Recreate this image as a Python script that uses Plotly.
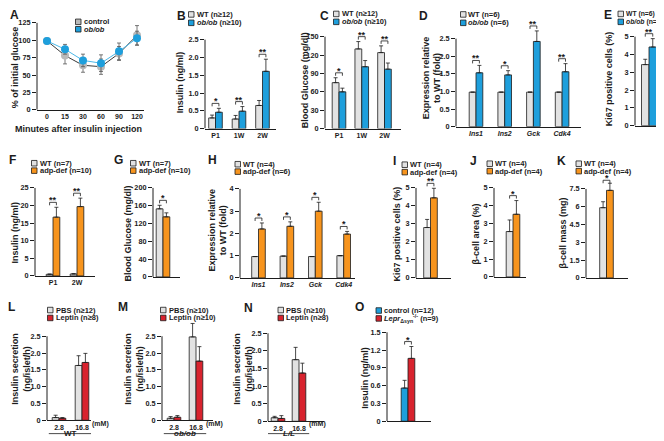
import plotly.graph_objects as go

W, H = 664, 441
FONT = "Liberation Sans, Arial, Helvetica, sans-serif"
INK = "#1c1c1c"
WT_GRAY = "#e2e2e2"
BLUE = "#1e9fdc"
ORANGE = "#f7941d"
RED = "#d8232e"
CTRL_GRAY = "#b9b9b9"

# ======================= DATA =======================
# A  insulin tolerance
A_minutes = ["0", "15", "30", "60", "90", "120"]
A_control = [99, 78, 64, 62, 81, 107]
A_control_err = [1.5, 12, 10, 11, 10, 14]
A_obob = [99, 87, 71, 67, 84, 103]
A_obob_err = [1.5, 7, 9, 12, 12, 10]
A_yticks = [0, 25, 50, 75, 100, 125]

# B  plasma insulin
B_cats = ["P1", "1W", "2W"]
B_wt = [0.30, 0.27, 0.65]
B_wt_err = [0.08, 0.10, 0.14]
B_ob = [0.46, 0.49, 1.61]
B_ob_err = [0.11, 0.13, 0.34]
B_sig = ["*", "**", "**"]

# C  blood glucose
C_cats = ["P1", "1W", "2W"]
C_wt = [75, 130, 124]
C_wt_err = [8, 12, 11]
C_ob = [60, 101, 97]
C_ob_err = [6, 10, 10]
C_sig = ["*", "**", "**"]

# D  expression
D_cats = ["Ins1", "Ins2", "Gck", "Cdk4"]
D_wt = [0.98, 0.98, 0.98, 0.98]
D_wt_err = [0, 0, 0, 0]
D_ob = [1.53, 1.47, 2.42, 1.56]
D_ob_err = [0.21, 0.12, 0.30, 0.23]
D_sig = ["**", "*", "**", "**"]

# E  Ki67
E_wt = [3.43]
E_wt_err = [0.30]
E_ob = [4.42]
E_ob_err = [0.47]
E_sig = ["**"]

# F  insulin adp-def
F_cats = ["P1", "2W"]
F_wt = [0.45, 0.55]
F_wt_err = [0.10, 0.10]
F_ad = [16.7, 19.7]
F_ad_err = [2.8, 2.4]
F_sig = ["**", "**"]

# G  blood glucose adp-def
G_wt = [153]
G_wt_err = [8]
G_ad = [135]
G_ad_err = [9]
G_sig = ["*"]

# H  expression adp-def
H_cats = ["Ins1", "Ins2", "Gck", "Cdk4"]
H_wt = [0.96, 0.98, 0.96, 1.00]
H_wt_err = [0, 0, 0, 0]
H_ad = [2.20, 2.32, 3.00, 1.97]
H_ad_err = [0.27, 0.20, 0.40, 0.12]
H_sig = ["*", "*", "*", "*"]

# I  Ki67 adp-def
I_wt = [2.80]
I_wt_err = [0.45]
I_ad = [4.45]
I_ad_err = [0.53]
I_sig = ["**"]

# J  beta-cell area
J_wt = [2.55]
J_wt_err = [0.65]
J_ad = [3.52]
J_ad_err = [0.77]
J_sig = ["*"]

# K  beta-cell mass
K_wt = [5.92]
K_wt_err = [0.50]
K_ad = [7.38]
K_ad_err = [0.60]
K_sig = ["*"]

# L, M, N  insulin secretion at 2.8 / 16.8 mM glucose
glucose_mM = ["2.8", "16.8"]
L_pbs = [0.08, 1.63]
L_pbs_err = [0.07, 0.29]
L_lep = [0.06, 1.72]
L_lep_err = [0.02, 0.27]
M_pbs = [0.06, 2.48]
M_pbs_err = [0.05, 0.40]
M_lep = [0.09, 1.76]
M_lep_err = [0.05, 0.43]
N_pbs = [0.10, 1.75]
N_pbs_err = [0.04, 0.35]
N_lep = [0.08, 1.37]
N_lep_err = [0.08, 0.28]

# O  insulin, LeprΔsyn
O_ctrl = [0.56]
O_ctrl_err = [0.13]
O_lepr = [1.06]
O_lepr_err = [0.20]
O_sig = ["*"]

# tick sets
T25 = [0, 0.5, 1.0, 1.5, 2.0, 2.5]
T25_lab = ["0", "0.5", "1.0", "1.5", "2.0", "2.5"]
T150 = [0, 30, 60, 90, 120, 150]
T5 = [0, 1, 2, 3, 4, 5]
T4 = [0, 1, 2, 3, 4]
T25i = [0, 5, 10, 15, 20, 25]
T200 = [0, 40, 80, 120, 160, 200]
T75 = [0, 1.5, 3, 4.5, 6, 7.5]
T75_lab = ["0", "1.5", "3", "4.5", "6", "7.5"]
T15 = [0, 0.3, 0.6, 0.9, 1.2, 1.5]
T15_lab = ["0", "0.3", "0.6", "0.9", "1.2", "1.5"]

# ======================= HELPERS =======================
fig = go.Figure()
layout_axes = {}
shapes = []
annots = []


def px2x(px):
    return px / W


def px2y(py):
    return 1 - py / H


def font(size, bold=True):
    return dict(family=FONT, size=size, color=INK, weight="bold" if bold else "normal")


def txt(x, y, text, size=7.5, ax="center", ay="middle", angle=0, bold=True):
    annots.append(dict(x=px2x(x), y=px2y(y), xref="paper", yref="paper", text=text,
                       showarrow=False, xanchor=ax, yanchor=ay, textangle=angle,
                       font=font(size, bold), borderpad=0))


def legend(xsq, ys, items, size=7.5):
    for (label, color), y in zip(items, ys):
        shapes.append(dict(type="rect", xref="paper", yref="paper",
                           x0=px2x(xsq), x1=px2x(xsq + 5.5),
                           y0=px2y(y + 2.8), y1=px2y(y - 2.8),
                           fillcolor=color, line=dict(color=INK, width=0.8)))
        txt(xsq + 7, y, label, size=size, ax="left")


def setup_axes(n, g, xticks, xticklabels, yticks, yticklabels, xfont=7):
    xa = "xaxis" if n == 1 else f"xaxis{n}"
    ya = "yaxis" if n == 1 else f"yaxis{n}"
    xr = "x" if n == 1 else f"x{n}"
    yr = "y" if n == 1 else f"y{n}"
    s, c0 = g["s"], g["c0"]
    ppu = (g["yb"] - g["yt"]) / max(yticks)
    layout_axes[xa] = dict(domain=[px2x(g["x0"]), px2x(g["x1"])],
                           range=[(g["x0"] - c0) / s, (g["x1"] - c0) / s],
                           anchor=yr, showline=True, linecolor=INK, linewidth=1,
                           ticks="", ticklen=0, tickvals=xticks, ticktext=xticklabels,
                           showticklabels=len(xticks) > 0,
                           tickfont=font(xfont), showgrid=False, zeroline=False,
                           fixedrange=True)
    layout_axes[ya] = dict(domain=[px2y(g["yb"]), px2y(g["ytop"])],
                           range=[0, (g["yb"] - g["ytop"]) / ppu],
                           anchor=xr, showline=False, ticks="outside", ticklen=4,
                           tickwidth=1, tickcolor=INK, tickvals=yticks,
                           ticktext=yticklabels, tickfont=font(7.3),
                           showgrid=False, zeroline=False, fixedrange=True)
    shapes.append(dict(type="line", xref=f"{xr} domain", yref=yr, x0=0, x1=0,
                       y0=0, y1=max(yticks), line=dict(color=INK, width=1)))
    return xr, yr, ppu


def bar_panel(n, g, cats, series, sig, yticks, yticklabels, italic_cats=False):
    ncat = len(series[0][0])
    xt = list(range(ncat))
    if cats:
        labels = [f"<i>{c}</i>" if italic_cats else c for c in cats]
        tv = xt
    else:
        labels, tv = [], []
    xr, yr, ppu = setup_axes(n, g, tv, labels, yticks, yticklabels)
    bw = g.get("bw", 6.8) / g["s"]
    for k, (vals, errs, color) in enumerate(series):
        fig.add_trace(go.Bar(
            x=xt, y=vals, width=bw, offset=(k - 1) * bw, xaxis=xr, yaxis=yr,
            marker=dict(color=color, line=dict(color=INK, width=0.8)),
            error_y=dict(type="data", array=errs, arrayminus=[0] * ncat,
                         symmetric=False, color=INK, thickness=0.8, width=2),
            showlegend=False, hoverinfo="skip"))
    if sig:
        gap = g.get("gap", 5)
        for i, mark in enumerate(sig):
            if not mark:
                continue
            top = max(v[i] + e[i] for v, e, _ in series)
            ly = top + gap / ppu
            tb = ly - 3 / ppu
            xl, xrr = i - bw / 2, i + bw / 2
            shapes.append(dict(type="path", xref=xr, yref=yr,
                               path=f"M {xl},{tb} L {xl},{ly} L {xrr},{ly} L {xrr},{tb}",
                               line=dict(color=INK, width=0.8)))
            annots.append(dict(x=i, y=ly, xref=xr, yref=yr, text=mark, showarrow=False,
                               yanchor="bottom", yshift=-4, font=font(9), borderpad=0))
    return xr, yr, ppu, bw


# ======================= PANEL A =======================
gA = dict(x0=29, x1=136, yb=103, yt=15, ytop=8, c0=39, s=18)
xA, yA, _ = setup_axes(1, gA, list(range(len(A_minutes))), A_minutes, A_yticks,
                       [str(t) for t in A_yticks])
fig.add_trace(go.Scatter(
    x=list(range(len(A_minutes))), y=A_control, mode="lines+markers", xaxis=xA, yaxis=yA,
    line=dict(color="#3a3a3a", width=1), marker=dict(color=CTRL_GRAY, size=8),
    error_y=dict(type="data", array=A_control_err, color="#555", thickness=0.8, width=2),
    cliponaxis=False, showlegend=False, hoverinfo="skip"))
fig.add_trace(go.Scatter(
    x=list(range(len(A_minutes))), y=A_obob, mode="lines+markers", xaxis=xA, yaxis=yA,
    line=dict(color="#4cb8e8", width=1), marker=dict(color=BLUE, size=8),
    error_y=dict(type="data", array=A_obob_err, color="#555", thickness=0.8, width=2),
    cliponaxis=False, showlegend=False, hoverinfo="skip"))
txt(6, 7.5, "A", size=12)
legend(67.5, [14, 21.5], [("control", CTRL_GRAY), ("<i>ob/ob</i>", BLUE)])
txt(7, 60, "% of initial glucose", size=9, angle=-90)
txt(70, 122, "Minutes after insulin injection", size=9)

# ======================= PANEL B =======================
gB = dict(x0=197, x1=268, yb=122, yt=32, ytop=2, c0=207.5, s=23.5)
bar_panel(2, gB, B_cats, [(B_wt, B_wt_err, WT_GRAY), (B_ob, B_ob_err, BLUE)], B_sig, T25, T25_lab)
txt(173, 8, "B", size=12)
legend(180.5, [6.5, 15], [("WT (n≥12)", WT_GRAY), ("<i>ob/ob</i> (n≥10)", BLUE)])
txt(172, 75, "Insulin (ng/ml)", size=9, angle=-90)

# ======================= PANEL C =======================
gC = dict(x0=317, x1=393, yb=122, yt=29, ytop=2, c0=331, s=22.75)
bar_panel(3, gC, C_cats, [(C_wt, C_wt_err, WT_GRAY), (C_ob, C_ob_err, BLUE)], C_sig, T150,
          [str(t) for t in T150])
txt(316.5, 8, "C", size=12)
legend(325.5, [6, 14], [("WT (n≥12)", WT_GRAY), ("<i>ob/ob</i> (n≥10)", BLUE)])
txt(297, 73, "Blood Glucose (mg/dl)", size=9, angle=-90)

# ======================= PANEL D =======================
gD = dict(x0=448, x1=573, yb=120, yt=31, ytop=2, c0=468, s=28.7)
bar_panel(4, gD, D_cats, [(D_wt, D_wt_err, WT_GRAY), (D_ob, D_ob_err, BLUE)], D_sig, T25,
          T25_lab, italic_cats=True)
txt(415, 8, "D", size=12)
legend(452.5, [6.5, 15], [("WT (n=6)", WT_GRAY), ("<i>ob/ob</i> (n=6)", BLUE)])
txt(424, 70, "Expression relative<br>to WT (fold)", size=9, angle=-90)

# ======================= PANEL E =======================
gE = dict(x0=627, x1=663, yb=119, yt=29, ytop=2, c0=641, s=24, bw=7.5)
bar_panel(5, gE, None, [(E_wt, E_wt_err, WT_GRAY), (E_ob, E_ob_err, BLUE)], E_sig, T5,
          [str(t) for t in T5])
txt(600, 7, "E", size=12)
legend(610, [6, 14], [("WT (n=6)", WT_GRAY), ("<i>ob/ob</i> (n=6)", BLUE)], size=6.8)
txt(601, 72, "Ki67 positive cells (%)", size=9, angle=-90)

# ======================= PANEL F =======================
gF = dict(x0=27, x1=87, yb=271, yt=182, ytop=148, c0=45, s=24)
bar_panel(6, gF, F_cats, [(F_wt, F_wt_err, WT_GRAY), (F_ad, F_ad_err, ORANGE)], F_sig, T25i,
          [str(t) for t in T25i])
txt(4, 154, "F", size=12)
legend(23.5, [157, 164.5], [("WT (n=7)", WT_GRAY), ("adp-def (n=10)", ORANGE)])
txt(7, 227, "Insulin (ng/ml)", size=9, angle=-90)

# ======================= PANEL G =======================
gG = dict(x0=145, x1=172, yb=272, yt=182, ytop=148, c0=155, s=24)
bar_panel(7, gG, None, [(G_wt, G_wt_err, WT_GRAY), (G_ad, G_ad_err, ORANGE)], G_sig, T200,
          [str(t) for t in T200])
txt(110.5, 154, "G", size=12)
legend(122.5, [157, 164.5], [("WT (n=7)", WT_GRAY), ("adp-def (n=10)", ORANGE)])
txt(120, 228, "Blood Glucose (mg/dl)", size=9, angle=-90)

# ======================= PANEL H =======================
gH = dict(x0=232, x1=347, yb=273, yt=183, ytop=148, c0=250.5, s=28.4)
bar_panel(8, gH, H_cats, [(H_wt, H_wt_err, WT_GRAY), (H_ad, H_ad_err, ORANGE)], H_sig, T4,
          [str(t) for t in T4], italic_cats=True)
txt(204, 154, "H", size=12)
legend(227, [158, 165.5], [("WT (n=4)", WT_GRAY), ("adp-def (n=6)", ORANGE)])
txt(210, 225, "Expression relative<br>to WT (fold)", size=9, angle=-90)

# ======================= PANEL I =======================
gI = dict(x0=408, x1=443, yb=273, yt=182, ytop=148, c0=422.5, s=24)
bar_panel(9, gI, None, [(I_wt, I_wt_err, WT_GRAY), (I_ad, I_ad_err, ORANGE)], I_sig, T5,
          [str(t) for t in T5])
txt(386, 155, "I", size=12)
legend(394, [158.5, 166], [("WT (n=4)", WT_GRAY), ("adp-def (n=4)", ORANGE)])
txt(389, 229, "Ki67 positive cells (%)", size=9, angle=-90)

# ======================= PANEL J =======================
gJ = dict(x0=486, x1=518, yb=272, yt=182, ytop=148, c0=505, s=24)
bar_panel(10, gJ, None, [(J_wt, J_wt_err, WT_GRAY), (J_ad, J_ad_err, ORANGE)], J_sig, T5,
          [str(t) for t in T5])
txt(466, 155, "J", size=12)
legend(479, [157.5, 165], [("WT (n=4)", WT_GRAY), ("adp-def (n=4)", ORANGE)])
txt(468, 229, "β-cell area (%)", size=9, angle=-90)

# ======================= PANEL K =======================
gK = dict(x0=578, x1=620, yb=273, yt=183, ytop=148, c0=598.5, s=24, gap=3)
bar_panel(11, gK, None, [(K_wt, K_wt_err, WT_GRAY), (K_ad, K_ad_err, ORANGE)], K_sig, T75,
          T75_lab)
txt(553.5, 155, "K", size=12)
legend(568, [157.5, 165], [("WT (n=4)", WT_GRAY), ("adp-def (n=4)", ORANGE)])
txt(555, 228, "β-cell mass (mg)", size=9, angle=-90)


# ======================= PANELS L, M, N =======================
def secretion_panel(n, g, pbs, pbs_err, lep, lep_err, letter, letter_pos, leg_x, leg_labels,
                    title_x, group_label):
    xr, yr, ppu, bw = bar_panel(n, g, glucose_mM, [(pbs, pbs_err, WT_GRAY), (lep, lep_err, RED)],
                                None, T25, T25_lab)
    txt(letter_pos[0], letter_pos[1], letter, size=12)
    legend(leg_x, [305.5, 313.5], [(leg_labels[0], WT_GRAY), (leg_labels[1], RED)])
    txt(title_x, 365, "Insulin secretion<br>(ng/islet/h)", size=9, angle=-90)
    annots.append(dict(x=len(glucose_mM) - 1, y=px2y(425.5), xref=xr, yref="paper", text="(mM)",
                       showarrow=False, xanchor="left", xshift=9, font=font(7), borderpad=0))
    shapes.append(dict(type="line", xref=xr, yref="paper", x0=-bw * 1.5, x1=len(glucose_mM) - 1 + bw * 1.5,
                       y0=px2y(430.5), y1=px2y(430.5), line=dict(color=INK, width=0.8)))
    annots.append(dict(x=(len(glucose_mM) - 1) / 2, y=px2y(436), xref=xr, yref="paper",
                       text=group_label, showarrow=False, font=font(8), borderpad=0))


gL = dict(x0=39, x1=83, yb=417, yt=332, ytop=296, c0=51, s=23)
secretion_panel(12, gL, L_pbs, L_pbs_err, L_lep, L_lep_err, "L", (3, 302), 39.5,
                ("PBS (n≥12)", "Leptin (n≥8)"), 13, "WT")
gM = dict(x0=154, x1=205, yb=417, yt=332, ytop=296, c0=166, s=22)
secretion_panel(13, gM, M_pbs, M_pbs_err, M_lep, M_lep_err, "M", (115, 302), 152.5,
                ("PBS (n≥10)", "Leptin (n≥10)"), 126, "<i>ob/ob</i>")
gN = dict(x0=260, x1=316, yb=418, yt=329, ytop=296, c0=270, s=21)
secretion_panel(14, gN, N_pbs, N_pbs_err, N_lep, N_lep_err, "N", (240, 303), 270,
                ("PBS (n≥10)", "Leptin (n≥8)"), 235, "<i>L/L</i>")

# ======================= PANEL O =======================
gO = dict(x0=379, x1=423, yb=418, yt=328, ytop=296, c0=400, s=24)
bar_panel(15, gO, None, [(O_ctrl, O_ctrl_err, BLUE), (O_lepr, O_lepr_err, RED)], O_sig, T15,
          T15_lab)
txt(351, 302, "O", size=12)
legend(368, [306, 314], [("control (n=12)", BLUE),
                         ("<i>Lepr</i><sub>Δsyn</sub><sup>-/-</sup> (n=9)", RED)])
txt(357, 374, "Insulin (ng/ml)", size=9, angle=-90)

fig.update_layout(
    width=W, height=H, margin=dict(l=0, r=0, t=0, b=0),
    paper_bgcolor="white", plot_bgcolor="rgba(0,0,0,0)",
    barmode="overlay", showlegend=False,
    font=dict(family=FONT, color=INK),
    shapes=shapes, annotations=annots, **layout_axes)

fig.write_html("out.html")
